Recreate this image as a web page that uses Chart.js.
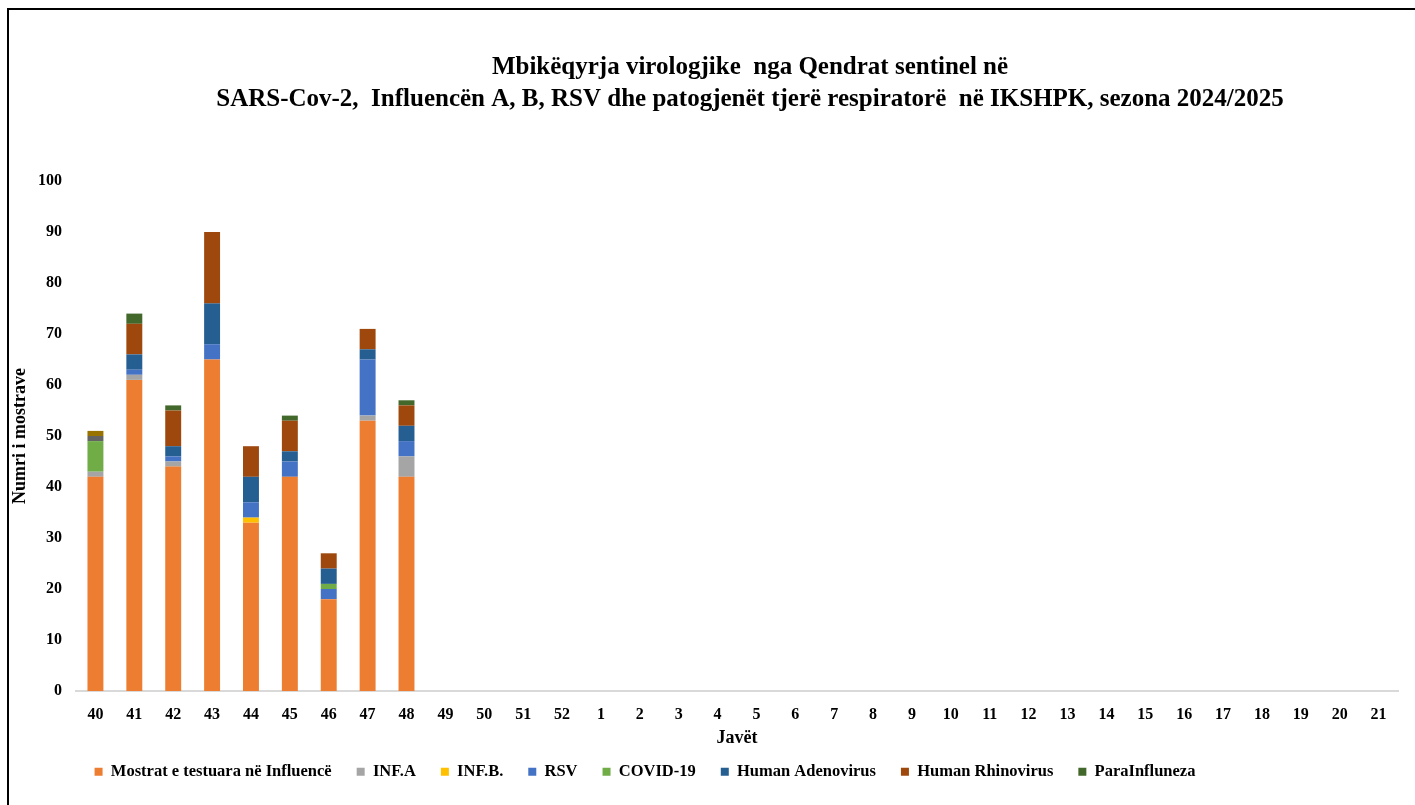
<!DOCTYPE html>
<html>
<head>
<meta charset="utf-8">
<script src="https://cdn.jsdelivr.net/npm/chart.js@4.4.1/dist/chart.umd.min.js"></script>
<style>
  html, body { margin: 0; padding: 0; background: #fff; overflow: hidden; }
  #wrap { position: relative; width: 1415px; height: 805px; }
  #frame { position: absolute; left: 7px; top: 8px; width: 1500px; height: 900px;
           border-left: 2px solid #000; border-top: 2px solid #000; pointer-events: none; }
</style>
</head>
<body>
<div id="wrap">
  <canvas id="chart" width="1415" height="805"></canvas>
  <div id="frame"></div>
</div>
<script>
const weeks = ['40','41','42','43','44','45','46','47','48','49','50','51','52',
  '1','2','3','4','5','6','7','8','9','10','11','12','13','14','15','16','17','18','19','20','21'];

// segment values per week (weeks 40-48 only have data)
const mostrat   = [42, 61, 44, 65, 33, 42, 18, 53, 42];
const infA      = [1, 1, 1, 0, 0, 0, 0, 1, 4];
const infB      = [0, 0, 0, 0, 1, 0, 0, 0, 0];
const rsv       = [0, 1, 1, 3, 3, 3, 2, 11, 3];
const covid     = [6, 0, 0, 0, 0, 0, 1, 0, 0];
const adeno     = [0, 3, 2, 8, 5, 2, 3, 2, 3];
const rhino     = [0, 6, 7, 14, 6, 6, 3, 4, 4];
const para      = [0, 2, 1, 0, 0, 1, 0, 0, 1];
const other1    = [1, 0, 0, 0, 0, 0, 0, 0, 0];
const other2    = [1, 0, 0, 0, 0, 0, 0, 0, 0];

const serif = "'Liberation Serif', 'Times New Roman', serif";

const ds = (label, data, color) => ({
  label: label,
  data: data,
  backgroundColor: color,
  borderWidth: 0,
  barPercentage: 0.5,
  categoryPercentage: 0.82,
});

// shift title/legend horizontally like in the original
const shiftBoxes = {
  id: 'shiftBoxes',
  afterLayout(chart) {
    if (chart.titleBlock) { chart.titleBlock.left += 51; chart.titleBlock.right += 51; }
    if (chart.legend) { chart.legend.left -= 54; chart.legend.right -= 54; }
  }
};

const ctx = document.getElementById('chart').getContext('2d');
const chart = new Chart(ctx, {
  type: 'bar',
  data: {
    labels: weeks,
    datasets: [
      ds('Mostrat e testuara në Influencë', mostrat, '#ED7D31'),
      ds('INF.A', infA, '#A5A5A5'),
      ds('INF.B.', infB, '#FFC000'),
      ds('RSV', rsv, '#4472C4'),
      ds('COVID-19', covid, '#70AD47'),
      ds('Human Adenovirus', adeno, '#255E91'),
      ds('Human Rhinovirus', rhino, '#9E480E'),
      ds('ParaInfluneza', para, '#43682B'),
      ds('', other1, '#636363'),
      ds('', other2, '#997300'),
    ]
  },
  options: {
    responsive: false,
    animation: false,
    layout: { padding: { left: 0, right: 17, top: 8, bottom: 15 } },
    plugins: {
      title: {
        display: true,
        text: ['Mbikëqyrja virologjike  nga Qendrat sentinel në',
               'SARS-Cov-2,  Influencën A, B, RSV dhe patogjenët tjerë respiratorë  në IKSHPK, sezona 2024/2025'],
        color: '#000',
        font: { family: serif, size: 25, weight: 'bold', lineHeight: 1.28 },
        padding: { top: 44, bottom: 65 }
      },
      legend: {
        position: 'bottom',
        labels: {
          color: '#000',
          font: { family: serif, size: 16.5, weight: 'bold' },
          boxWidth: 8,
          boxHeight: 8,
          padding: 25,
          filter: item => item.text !== ''
        }
      },
      tooltip: { enabled: false }
    },
    scales: {
      x: {
        stacked: true,
        grid: { display: false, drawTicks: false },
        border: { display: true, color: '#D9D9D9', width: 2 },
        ticks: { color: '#000', font: { family: serif, size: 16, weight: 'bold' }, padding: 14, maxRotation: 0, autoSkip: false },
        title: { display: true, text: 'Javët', color: '#000',
                 font: { family: serif, size: 18, weight: 'bold' }, padding: { top: 0, bottom: -10.3 } },
        afterFit(scale) { scale.height = 47.5; }
      },
      y: {
        stacked: true,
        min: 0,
        max: 100,
        grid: { display: false, drawTicks: false },
        border: { display: false },
        ticks: { stepSize: 10, color: '#000', font: { family: serif, size: 16, weight: 'bold' }, padding: 14 },
        title: { display: true, text: 'Numri i mostrave', color: '#000',
                 font: { family: serif, size: 18, weight: 'bold' }, padding: { top: 10, bottom: 0 } },
        afterFit(scale) { scale.width = 76; }
      }
    }
  },
  plugins: [shiftBoxes]
});
</script>
</body>
</html>
